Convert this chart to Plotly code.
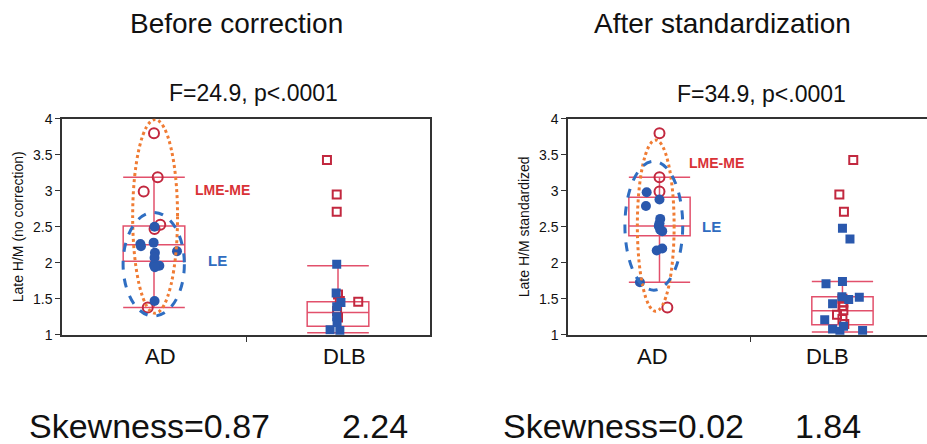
import plotly.graph_objects as go

# ---------------- data ----------------
categories = ["AD", "DLB"]

# Panel 1: before correction
p1_ad_lme_y = [3.80, 3.19, 2.99, 2.53, 2.47, 1.38]
p1_ad_lme_dx = [0.00, 0.02, -0.056, 0.034, 0.003, -0.034]
p1_ad_le_y = [2.50, 2.26, 2.23, 2.28, 2.14, 2.07, 2.16, 1.97, 1.96, 1.94, 1.47]
p1_ad_le_dx = [0.003, -0.074, -0.071, -0.002, 0.005, 0.003, 0.125, 0.0, 0.029, 0.005, 0.003]
p1_dlb_lme_y = [3.43, 2.95, 2.71, 1.46, 1.56, 1.47, 1.33, 1.24]
p1_dlb_lme_dx = [-0.06, -0.007, -0.007, 0.11, 0.0, 0.01, -0.005, 0.0]
p1_dlb_le_y = [1.98, 1.58, 1.45, 1.39, 1.25, 1.17, 1.07, 1.06]
p1_dlb_le_dx = [-0.007, -0.01, 0.016, -0.007, -0.007, -0.005, -0.043, 0.01]
p1_box = {"q1": [2.02, 1.12], "median": [2.25, 1.31], "q3": [2.51, 1.46],
          "low": [1.38, 1.03], "high": [3.19, 1.96]}

# Panel 2: after standardization
p2_ad_lme_y = [3.80, 3.19, 2.99, 1.38]
p2_ad_lme_dx = [0.0, 0.0, 0.0, 0.043]
p2_ad_le_y = [2.98, 2.79, 2.88, 2.61, 2.55, 2.51, 2.46, 2.44, 2.17, 2.20, 1.73]
p2_ad_le_dx = [-0.07, -0.074, 0.0, 0.004, 0.0, -0.004, 0.004, 0.015, -0.015, 0.015, -0.107]
p2_dlb_lme_y = [3.43, 2.95, 2.71, 1.50, 1.45, 1.40, 1.34, 1.28, 1.22, 1.15]
p2_dlb_lme_dx = [0.059, -0.017, 0.008, 0.0, 0.005, 0.0, 0.005, -0.03, 0.0, 0.01]
p2_dlb_le_y = [2.48, 2.33, 1.71, 1.74, 1.52, 1.49, 1.53, 1.43, 1.21, 1.08, 1.05, 1.06, 1.12]
p2_dlb_le_dx = [0.0, 0.041, -0.09, 0.0, 0.092, 0.034, -0.003, -0.054, -0.097, -0.054, -0.014, 0.11, 0.006]
p2_box = {"q1": [2.375, 1.14], "median": [2.51, 1.335], "q3": [2.91, 1.53],
          "low": [1.73, 1.04], "high": [3.19, 1.74]}

titles = ["Before correction", "After standardization"]
stats_text = ["F=24.9, p<.0001", "F=34.9, p<.0001"]
y_titles = ["Late H/M (no correction)", "Late H/M standardized"]
skew_labels = ["Skewness=0.87", "2.24", "Skewness=0.02", "1.84"]
y_ticks = [1, 1.5, 2, 2.5, 3, 3.5, 4]
y_ticktext = ["1", "1.5", "2", "2.5", "3", "3.5", "4"]

# ellipse bounds (x0, x1, y0, y1) in data units around AD
p1_ellipse_lme = [-0.116, 0.128, 1.30, 3.99]
p1_ellipse_le = [-0.168, 0.165, 1.26, 2.70]
p2_ellipse_lme = [-0.121, 0.080, 1.326, 3.705]
p2_ellipse_le = [-0.189, 0.127, 1.62, 3.41]

# ---------------- styles ----------------
RED = "#c2283f"
BLUE = "#2a58ad"
BOX = "#e2506b"
ORANGE = "#f07c34"
ELL_BLUE = "#2f6ec2"
LABEL_RED = "#d93237"
LABEL_BLUE = "#2f6cc0"
FONT = "Liberation Sans, Arial, sans-serif"

fig = go.Figure()


def add_panel(xa, ya, box, groups):
    fig.add_trace(go.Box(
        x=[0, 1], q1=box["q1"], median=box["median"], q3=box["q3"],
        lowerfence=box["low"], upperfence=box["high"],
        boxpoints=False, width=0.335, whiskerwidth=1,
        line=dict(color=BOX, width=1.5), fillcolor="rgba(0,0,0,0)",
        xaxis=xa, yaxis=ya, showlegend=False, hoverinfo="skip"))
    for cat, ys, dxs, sym, col, size, lw in groups:
        xs = [cat + d for d in dxs]
        if "open" in sym:
            marker = dict(symbol=sym, size=size, color=col, line=dict(color=col, width=lw))
        else:
            marker = dict(symbol=sym, size=size, color=col, line=dict(width=0))
        fig.add_trace(go.Scatter(x=xs, y=ys, mode="markers", marker=marker,
                                 xaxis=xa, yaxis=ya, showlegend=False, hoverinfo="skip"))


add_panel("x", "y", p1_box, [
    (0, p1_ad_lme_y, p1_ad_lme_dx, "circle-open", RED, 10, 2),
    (0, p1_ad_le_y, p1_ad_le_dx, "circle", BLUE, 10, 0),
    (1, p1_dlb_lme_y, p1_dlb_lme_dx, "square-open", RED, 8, 2),
    (1, p1_dlb_le_y, p1_dlb_le_dx, "square", BLUE, 9, 0),
])
add_panel("x2", "y2", p2_box, [
    (0, p2_ad_lme_y, p2_ad_lme_dx, "circle-open", RED, 10, 2),
    (0, p2_ad_le_y, p2_ad_le_dx, "circle", BLUE, 10, 0),
    (1, p2_dlb_lme_y, p2_dlb_lme_dx, "square-open", RED, 8, 2),
    (1, p2_dlb_le_y, p2_dlb_le_dx, "square", BLUE, 9, 0),
])

W, H = 927, 444
ydom = [(H - 339) / H, (H - 115) / H]

axis_common = dict(showgrid=False, zeroline=False, linecolor="#333333", linewidth=1.5,
                   ticks="outside", tickcolor="#333333", ticklen=5)

fig.update_layout(
    width=W, height=H, margin=dict(l=0, r=0, t=0, b=0),
    paper_bgcolor="white", plot_bgcolor="white",
    font=dict(family=FONT, color="#111111"),
    xaxis=dict(domain=[62 / W, 430 / W], range=[-0.5, 1.5], tickvals=[0.5], ticktext=[""],
               mirror=True, **axis_common),
    yaxis=dict(domain=ydom, range=[1, 4], tickvals=y_ticks, ticktext=y_ticktext,
               tickfont=dict(size=14), mirror=True,
               title=dict(text=y_titles[0], font=dict(size=14), standoff=6), **axis_common),
    xaxis2=dict(domain=[568 / W, 1.0], range=[-0.5, 1.462], tickvals=[0.5], ticktext=[""],
                anchor="y2", mirror=True, **axis_common),
    yaxis2=dict(domain=ydom, range=[1, 4], tickvals=y_ticks, ticktext=y_ticktext,
                tickfont=dict(size=14), anchor="x2", mirror=False,
                title=dict(text=y_titles[1], font=dict(size=14), standoff=6), **axis_common),
)

shapes = []
for xr, yr, e, col, dash in [
    ("x", "y", p1_ellipse_lme, ORANGE, "dot"),
    ("x", "y", p1_ellipse_le, ELL_BLUE, "dash"),
    ("x2", "y2", p2_ellipse_lme, ORANGE, "dot"),
    ("x2", "y2", p2_ellipse_le, ELL_BLUE, "dash"),
]:
    shapes.append(dict(type="circle", xref=xr, yref=yr, x0=e[0], x1=e[1], y0=e[2], y1=e[3],
                       line=dict(color=col, width=3, dash=dash), layer="above"))
fig.update_layout(shapes=shapes)

ann = []
# panel titles
ann.append(dict(text=titles[0], x=236 / W, y=1 - 16 / H, xref="paper", yref="paper",
                showarrow=False, font=dict(size=28, color="#111111"), xanchor="center", yanchor="middle"))
ann.append(dict(text=titles[1], x=722 / W, y=1 - 16 / H, xref="paper", yref="paper",
                showarrow=False, font=dict(size=28, color="#111111"), xanchor="center", yanchor="middle"))
ann.append(dict(text=stats_text[0], x=253 / W, y=1 - 88 / H, xref="paper", yref="paper",
                showarrow=False, font=dict(size=23, color="#111111"), xanchor="center", yanchor="middle"))
ann.append(dict(text=stats_text[1], x=761 / W, y=1 - 89 / H, xref="paper", yref="paper",
                showarrow=False, font=dict(size=23, color="#111111"), xanchor="center", yanchor="middle"))
# category labels
for txt, px in [(categories[0], 160), (categories[1], 344), (categories[0], 652), (categories[1], 827)]:
    ann.append(dict(text=txt, x=px / W, y=1 - 362 / H, xref="paper", yref="paper",
                    showarrow=False, font=dict(size=22, color="#111111"), xanchor="center", yanchor="middle"))
# group labels
ann.append(dict(text="<b>LME-ME</b>", x=0.212, y=3.01, xref="x", yref="y", showarrow=False,
                font=dict(size=14, color=LABEL_RED), xanchor="left", yanchor="middle"))
ann.append(dict(text="<b>LE</b>", x=0.283, y=2.03, xref="x", yref="y", showarrow=False,
                font=dict(size=15, color=LABEL_BLUE), xanchor="left", yanchor="middle"))
ann.append(dict(text="<b>LME-ME</b>", x=0.149, y=3.38, xref="x2", yref="y2", showarrow=False,
                font=dict(size=14, color=LABEL_RED), xanchor="left", yanchor="middle"))
ann.append(dict(text="<b>LE</b>", x=0.221, y=2.50, xref="x2", yref="y2", showarrow=False,
                font=dict(size=15, color=LABEL_BLUE), xanchor="left", yanchor="middle"))
# skewness
for txt, px in zip(skew_labels, [149, 375, 623, 828]):
    ann.append(dict(text=txt, x=px / W, y=1 - 434 / H, xref="paper", yref="paper",
                    showarrow=False, font=dict(size=34, color="#111111"), xanchor="center", yanchor="middle"))
fig.update_layout(annotations=ann)

fig.write_html("out.html")
